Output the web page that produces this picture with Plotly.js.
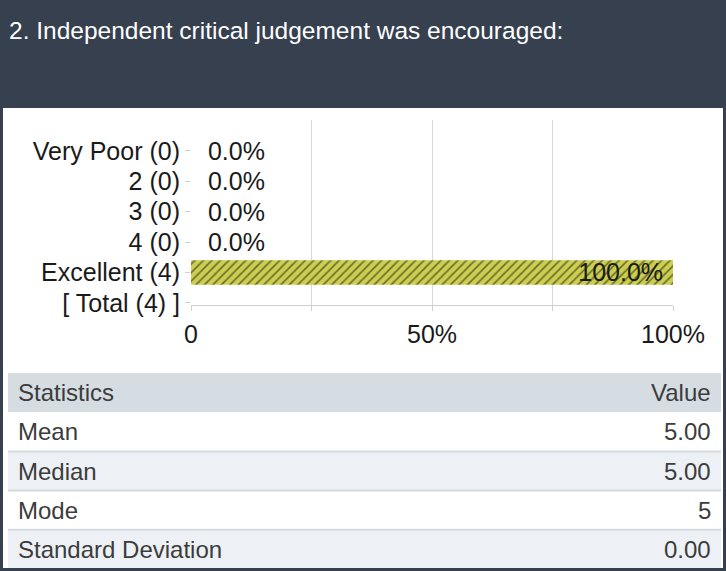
<!DOCTYPE html>
<html>
<head>
<meta charset="utf-8">
<script src="https://cdn.plot.ly/plotly-3.0.1.min.js"></script>
<style>
html,body{margin:0;padding:0;background:#fff;}
#chart{width:726px;height:571px;}
</style>
</head>
<body>
<div id="chart"></div>
<script>
// ---- data ----
var titleText = "2. Independent critical judgement was encouraged:";
var categories = ["Very Poor (0)", "2 (0)", "3 (0)", "4 (0)", "Excellent (4)", "[ Total (4) ]"];
var percents = [0, 0, 0, 0, 100, null];
var barLabels = ["0.0%", "0.0%", "0.0%", "0.0%", "100.0%", ""];
var xTickVals = [0, 25, 50, 75, 100];
var xTickText = ["0", "", "50%", "", "100%"];
var statNames = ["Mean", "Median", "Mode", "Standard Deviation"];
var statValues = ["5.00", "5.00", "5", "0.00"];
var statHeader = ["Statistics", "Value"];

// ---- geometry helpers (pixel -> paper) ----
var W = 726, H = 571;
function px(x){ return x / W; }
function py(y){ return 1 - y / H; }

var FONT = "Arial, 'Liberation Sans', sans-serif";

var zeroMask = percents.map(function(v){ return v === 0; });
var traceOut = {
  type: "bar", orientation: "h",
  y: categories,
  x: percents.map(function(v){ return v === 0 ? 0 : null; }),
  text: barLabels.map(function(t, i){ return zeroMask[i] ? "\u00a0\u00a0" + t : ""; }),
  textposition: "outside", cliponaxis: false, constraintext: "none",
  textfont: {family: FONT, size: 25, color: "#1a1a1a"},
  marker: {color: "rgba(0,0,0,0)"},
  width: 0.8, hoverinfo: "skip", showlegend: false
};
var traceIn = {
  type: "bar", orientation: "h",
  y: categories,
  x: percents.map(function(v){ return v ? v : null; }),
  text: barLabels.map(function(t, i){ return percents[i] ? t + "\u00a0" : ""; }),
  textposition: "inside", insidetextanchor: "end",
  textfont: {family: FONT, size: 25, color: "#1a1a1a"},
  constraintext: "none",
  marker: {
    color: "#cbce50",
    line: {width: 0},
    pattern: {shape: "/", fgcolor: "#000000", bgcolor: "#cbce50", size: 6, solidity: 0.25, fillmode: "overlay"}
  },
  width: 0.8, hoverinfo: "skip", showlegend: false
};

var shapes = [];
var annotations = [];

// header band
shapes.push({type: "rect", xref: "paper", yref: "paper", x0: 0, x1: 1, y0: py(108), y1: 1,
  fillcolor: "#36404e", line: {width: 0}, layer: "below"});
annotations.push({xref: "paper", yref: "paper", x: px(7), y: py(30), xanchor: "left", yanchor: "middle",
  text: titleText, showarrow: false, font: {family: FONT, size: 24.5, color: "#ffffff"}});

// statistics table
var tblTop = 373, rowH = 39.2, tblL = 8, tblR = 721;
var rowColors = ["#d6dde2", "#ffffff", "#edf1f5", "#ffffff", "#edf1f5"];
var allRows = [statHeader].concat(statNames.map(function(n, i){ return [n, statValues[i]]; }));
allRows.forEach(function(r, i){
  var y0 = tblTop + i * rowH, y1 = y0 + rowH;
  shapes.push({type: "rect", xref: "paper", yref: "paper", x0: px(tblL), x1: px(tblR), y0: py(y1), y1: py(y0),
    fillcolor: rowColors[i], line: {width: 0}, layer: "below"});
  if (i > 1) {
    shapes.push({type: "line", xref: "paper", yref: "paper", x0: px(tblL), x1: px(tblR), y0: py(y0), y1: py(y0),
      line: {color: "#d3dadf", width: 2}, layer: "below"});
  }
  var cy = (y0 + y1) / 2;
  annotations.push({xref: "paper", yref: "paper", x: px(16), y: py(cy), xanchor: "left", yanchor: "middle",
    text: r[0], showarrow: false, font: {family: FONT, size: 24, color: "#3c3c3c"}});
  annotations.push({xref: "paper", yref: "paper", x: px(713), y: py(cy), xanchor: "right", yanchor: "middle",
    text: r[1], showarrow: false, font: {family: FONT, size: 24, color: "#3c3c3c"}});
});

// card border
shapes.push({type: "rect", xref: "paper", yref: "paper", x0: px(1.5), x1: px(724.5), y0: py(569.5), y1: py(1),
  fillcolor: "rgba(0,0,0,0)", line: {color: "#36404e", width: 3}, layer: "above"});

var layout = {
  width: W, height: H,
  margin: {l: 0, r: 0, t: 0, b: 0, pad: 0},
  paper_bgcolor: "#ffffff", plot_bgcolor: "rgba(0,0,0,0)",
  barmode: "overlay",
  font: {family: FONT, size: 25, color: "#1a1a1a"},
  showlegend: false,
  xaxis: {
    domain: [px(191), px(673)],
    range: [0, 100], fixedrange: true,
    tickmode: "array", tickvals: xTickVals, ticktext: xTickText,
    showgrid: true, gridcolor: "#d9d9d9", gridwidth: 1,
    zeroline: false,
    showline: true, linecolor: "#d0d0d0", linewidth: 1,
    ticks: "outside", ticklen: 5, tickcolor: "#d0d0d0",
    ticklabelstandoff: 2,
    tickfont: {family: FONT, size: 25, color: "#1a1a1a"}
  },
  yaxis: {
    domain: [py(305), py(120)],
    type: "category", categoryorder: "array", categoryarray: categories,
    range: [5.07, -1.02], fixedrange: true,
    showgrid: false, zeroline: false, showline: false,
    ticks: "outside", ticklen: 5, tickcolor: "#d0d0d0",
    ticklabelstandoff: 0,
    tickfont: {family: FONT, size: 25, color: "#1a1a1a"}
  },
  shapes: shapes,
  annotations: annotations
};

Plotly.newPlot("chart", [traceOut, traceIn], layout, {displayModeBar: false, staticPlot: true});
</script>
</body>
</html>
